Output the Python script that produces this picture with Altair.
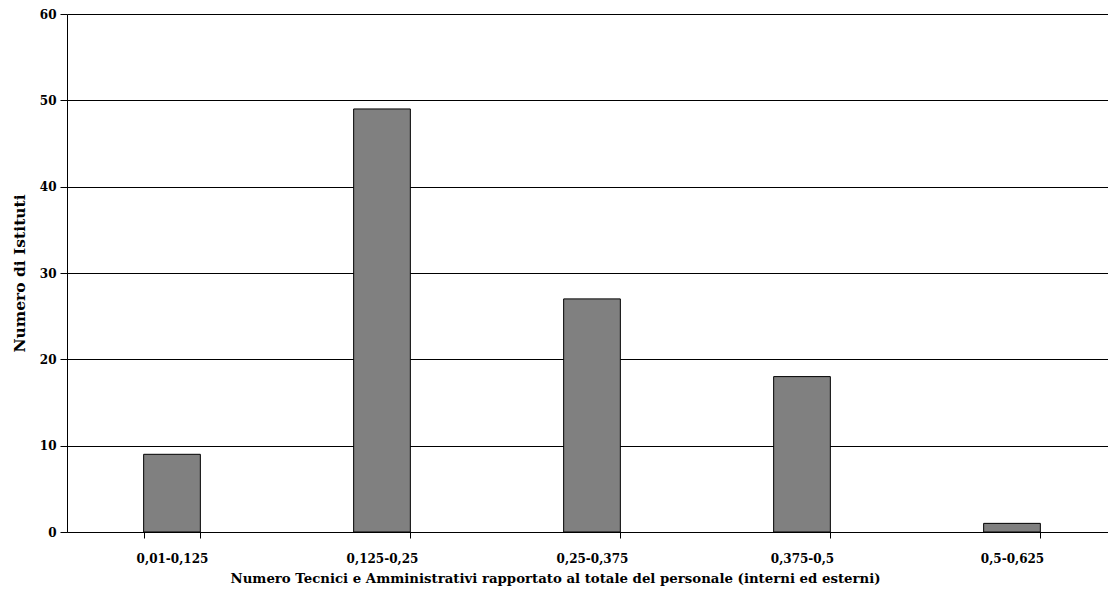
import altair as alt
import pandas as pd

# Frequency of institutes by ratio of technical/administrative staff
categories = ["0,01-0,125", "0,125-0,25", "0,25-0,375", "0,375-0,5", "0,5-0,625"]
counts = [9, 49, 27, 18, 1]

df = pd.DataFrame({"classe": categories, "istituti": counts})

FONT = "DejaVu Serif"

bars = alt.Chart(df).mark_bar(
    color="#808080", stroke="#000000", strokeWidth=1
).encode(
    x=alt.X(
        "classe:N",
        sort=categories,
        scale=alt.Scale(paddingInner=0.73, paddingOuter=0.365, range=[0, 1050]),
        axis=alt.Axis(
            title="Numero Tecnici e Amministrativi rapportato al totale del personale (interni ed esterni)",
            labelAngle=0,
            tickBand="extent",
            tickSize=6,
            labelPadding=15,
            titleX=488,
            titleY=39,
            titleAnchor="middle",
            titleAlign="center",
            titleFontSize=13.3,
            grid=False,
        ),
    ),
    y=alt.Y(
        "istituti:Q",
        scale=alt.Scale(domain=[0, 60]),
        axis=alt.Axis(
            title="Numero di Istituti",
            values=[0, 10, 20, 30, 40, 50, 60],
            tickSize=7,
            labelPadding=4,
            titlePadding=12,
            titleFontSize=15.5,
            grid=True,
        ),
    ),
)

chart = bars.properties(
    width=1041,
    height=518,
    autosize=alt.AutoSizeParams(type="none"),
    padding={"left": 67, "top": 14, "right": 0, "bottom": 79},
    background="#ffffff",
).configure_view(
    stroke=None
).configure_axis(
    domainColor="#000000",
    domainWidth=1,
    tickColor="#000000",
    tickWidth=1,
    gridColor="#000000",
    gridWidth=1,
    gridOpacity=1,
    labelFont=FONT,
    labelFontSize=12,
    labelFontWeight="bold",
    labelColor="#000000",
    titleFont=FONT,
    titleFontWeight="bold",
    titleColor="#000000",
)

chart.save("out.html", embed_options={"renderer": "svg", "actions": False})
